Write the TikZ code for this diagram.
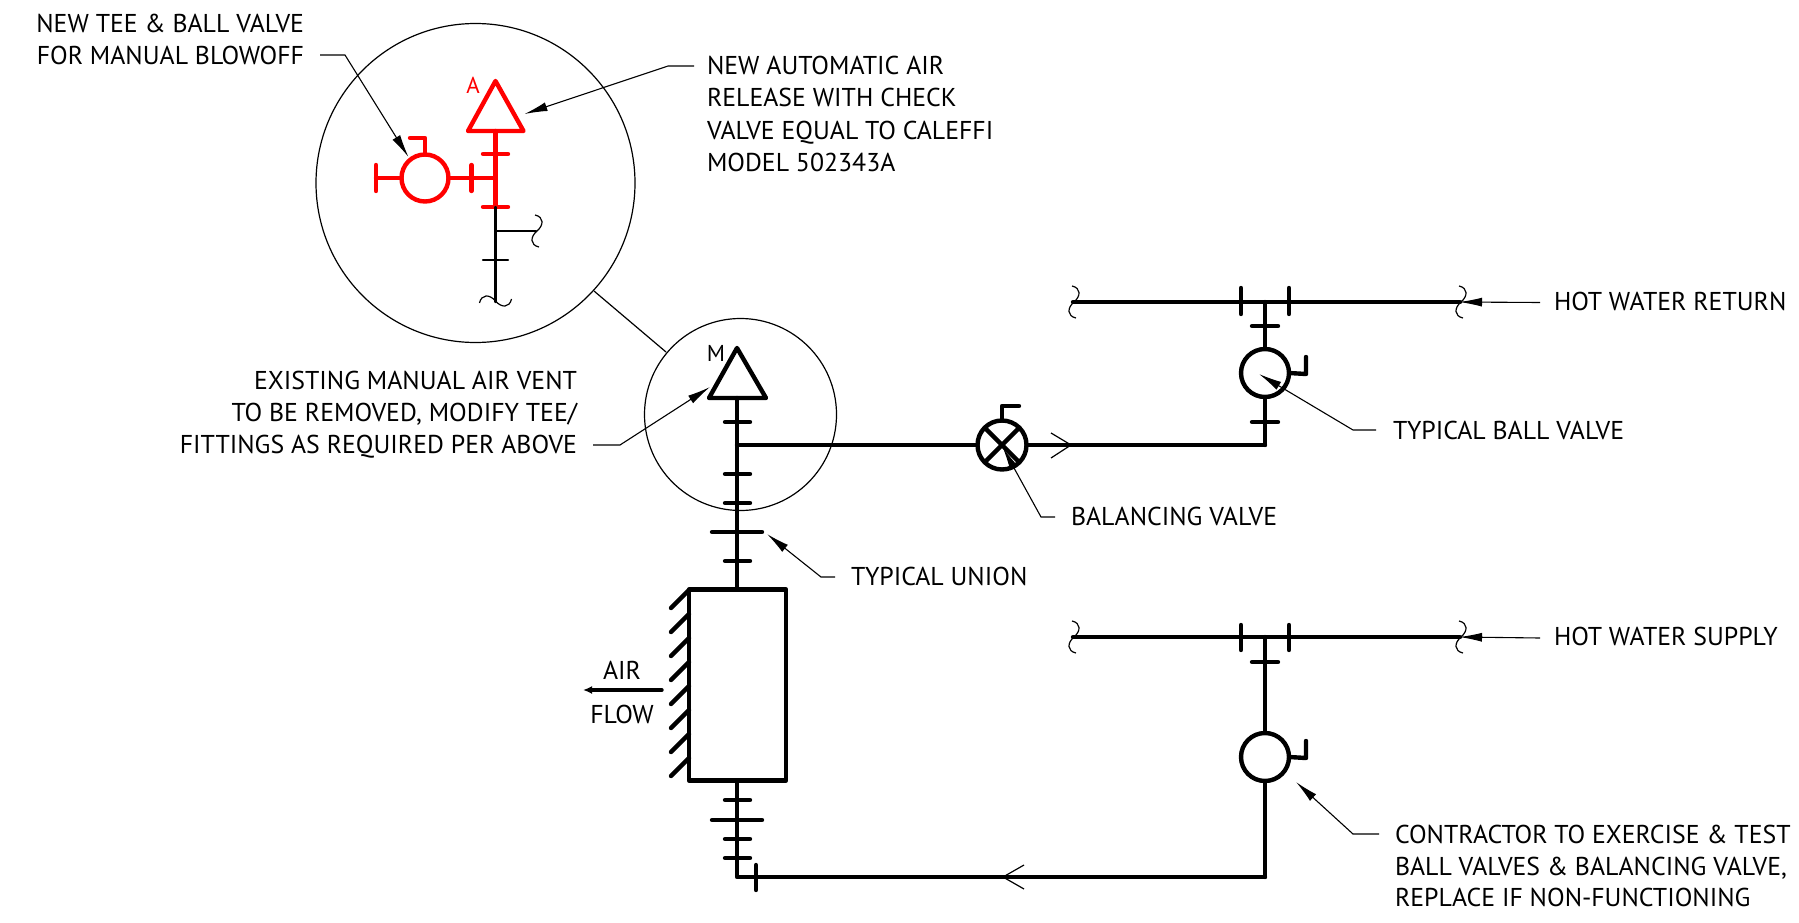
\documentclass[tikz,border=0pt]{standalone}
\usepackage{fontspec}
\setmainfont{PT Sans}
\usetikzlibrary{arrows.meta}
\definecolor{newred}{RGB}{255,0,0}
\tikzset{
  pipe/.style={line width=4.4pt,line cap=round,line join=round},
  thinpipe/.style={line width=2.4pt,line cap=round,line join=round},
  redpipe/.style={pipe,draw=newred},
  thinline/.style={line width=1.2pt},
  leader/.style={line width=1.1pt,-{Latex[length=23pt,width=9pt]}},
  valve/.style={circle,draw,line width=4.4pt,minimum size=46pt,inner sep=0pt,outer sep=0pt},
  note/.style={font=\fontsize{25.8}{25.8}\selectfont,inner sep=0pt,outer sep=0pt},
  noteR/.style={note,anchor=base east,yshift=0.6pt},
  noteL/.style={note,anchor=base west,yshift=0.6pt},
  noteC/.style={note,anchor=base,yshift=0.6pt},
  wavebreak/.pic={\draw[line width=1.2pt] (-1,-16) .. controls (8,-14) and (8,-6) .. (1,0) .. controls (-6,6) and (-6,14) .. (3,16);},
}
\begin{document}
\begin{tikzpicture}[x=1pt,y=-1pt]
\useasboundingbox (0,0) rectangle (1799,923);
% detail circles
\node[circle,draw,thinline,minimum size=319pt,inner sep=0pt] (bigc) at (475.5,183) {};
\node[circle,draw,thinline,minimum size=192pt,inner sep=0pt] (smallc) at (740.5,414.5) {};
\coordinate (lkA) at (594,291); \coordinate (lkB) at (666,352);
\draw[thinline] (lkA) -- (lkB);

% ---- red detail
\coordinate (aTop) at (495.5,81); \coordinate (aL) at (468,131); \coordinate (aR) at (523.5,131);
\draw[redpipe] (aTop) -- (aR) -- (aL) -- cycle;
\node[note,text=newred,font=\fontsize{23}{23}\selectfont] (aLabel) at (473,85) {A};
\coordinate (aBase) at (495.5,131); \coordinate (aEnd) at (495.5,207); \coordinate (aTee) at (495.5,178);
\draw[redpipe] (aBase) -- (aEnd);
\draw[redpipe] (483,154) -- (508,154);
\draw[redpipe] (483,207) -- (508,207);
\node[valve,draw=newred,minimum size=47pt] (rv) at (425,178) {};
\draw[redpipe] (rv) -- (aTee);
\draw[redpipe] (471.5,165) -- (471.5,191);
\coordinate (rvEnd) at (376,178);
\draw[redpipe] (rv) -- (rvEnd);
\draw[redpipe] (376,165) -- (376,191);
\coordinate (rvH1) at (425,138); \coordinate (rvH2) at (410,138);
\draw[redpipe] (rv.north) -- (rvH1) -- (rvH2);
% ---- black in detail
\coordinate (bEnd) at (495.5,302); \coordinate (bBr) at (495.5,231); \coordinate (bBrEnd) at (536,231);
\draw[thinpipe] (aEnd) -- (bEnd);
\draw[thinpipe] (bBr) -- (bBrEnd);
\draw[thinpipe] (483,260) -- (508,260);
\pic at (536,231) {wavebreak};
\pic[rotate=-90] at (495.5,300) {wavebreak};
% ---- main riser
\coordinate (mTop) at (737,348); \coordinate (mL) at (709,398); \coordinate (mR) at (766,398);
\draw[pipe] (mTop) -- (mR) -- (mL) -- cycle;
\node[note,font=\fontsize{23}{23}\selectfont] (mLabel) at (716,353) {M};
\node[draw,line width=4.4pt,line join=round,minimum width=97pt,minimum height=191pt,inner sep=0pt,outer sep=0pt] (coil) at (737.5,685) {};
\coordinate (mBase) at (737,398);
\draw[pipe] (mBase) -- (coil.north -| mBase);
\foreach \y in {422,474,503,561} \draw[pipe] (725,\y) -- (750,\y);
\draw[pipe] (712,532) -- (762,532);
\foreach \y in {590,614,638,662,686,710,734,758} \draw[pipe] (689,\y) -- (671,\y+18);
% supply to valve
\coordinate (tee1) at (737,445); \coordinate (c1) at (1265,445);
\node[valve,minimum size=49pt] (bv) at (1002,445) {};
\draw[pipe] (tee1) -- (bv);
\draw[pipe] (bv) -- (c1);
\draw[pipe] (bv.north west) -- (bv.south east);
\draw[pipe] (bv.north east) -- (bv.south west);
\coordinate (bvH1) at (1002,406); \coordinate (bvH2) at (1019,406);
\draw[pipe] (bv.north) -- (bvH1) -- (bvH2);
\draw[thinline] (1051,433) -- (1071,445) -- (1051,458);
% return branch
\coordinate (hwrL) at (1073,302); \coordinate (hwrR) at (1460,302); \coordinate (hwrT) at (1265,302);
\draw[pipe] (hwrL) -- (hwrR);
\pic at (1073,302) {wavebreak};
\pic at (1460,302) {wavebreak};
\draw[pipe] (1241,288) -- (1241,314);
\draw[pipe] (1289,288) -- (1289,314);
\node[valve,minimum size=48pt] (v1) at (1265,373) {};
\draw[pipe] (hwrT) -- (v1);
\draw[pipe] (v1) -- (c1);
\draw[pipe] (1252,326) -- (1278,326);
\draw[pipe] (1252,422) -- (1278,422);
\coordinate (v1H1) at (1306,374); \coordinate (v1H2) at (1306,357);
\draw[pipe] (v1.east) -- (v1H1) -- (v1H2);
% coil outlet
\coordinate (cOut) at (737,781); \coordinate (c2) at (737,877); \coordinate (c3) at (1265,877);
\draw[pipe] (cOut) -- (c2) -- (c3);
\foreach \y in {800,839,858} \draw[pipe] (725,\y) -- (750,\y);
\draw[pipe] (712,820) -- (762,820);
\draw[pipe] (756,865) -- (756,890);
\draw[thinline] (1024,865) -- (1003,877) -- (1024,889);
% supply branch
\coordinate (hwsL) at (1073,637); \coordinate (hwsR) at (1460,637); \coordinate (hwsT) at (1265,637);
\draw[pipe] (hwsL) -- (hwsR);
\pic at (1073,637) {wavebreak};
\pic at (1460,637) {wavebreak};
\draw[pipe] (1241,625) -- (1241,650);
\draw[pipe] (1289,625) -- (1289,650);
\node[valve,minimum size=48pt] (v2) at (1265,757) {};
\draw[pipe] (hwsT) -- (v2);
\draw[pipe] (v2) -- (c3);
\draw[pipe] (1252,662) -- (1278,662);
\coordinate (v2H1) at (1306,758); \coordinate (v2H2) at (1306,741);
\draw[pipe] (v2.east) -- (v2H1) -- (v2H2);
% air flow
\coordinate (afR) at (662,690); \coordinate (afL) at (583,690);
\draw[line width=3.4pt,line cap=round,-{Latex[length=9pt,width=8pt]}] (afR) -- (afL);
\node[noteC] (air) at (622,680) {AIR};
\node[noteC] (flow) at (622,724) {FLOW};
% labels
\node[noteR] (t1) at (304,33) {NEW TEE \& BALL VALVE};
\node[noteR] (t2) at (304,65) {FOR MANUAL BLOWOFF};
\node[noteL] (t3) at (707,75.5) {NEW AUTOMATIC AIR};
\node[noteL] (t4) at (707,107.5) {RELEASE WITH CHECK};
\node[noteL] (t5) at (707,140) {VALVE EQUAL TO CALEFFI};
\node[noteL] (t6) at (707,172) {MODEL 502343A};
\node[noteR] (t7) at (577,390) {EXISTING MANUAL AIR VENT};
\node[noteR] (t8) at (577,422) {TO BE REMOVED, MODIFY TEE/};
\node[noteR] (t9) at (577,454) {FITTINGS AS REQUIRED PER ABOVE};
\node[noteL] (t10) at (851,586) {TYPICAL UNION};
\node[noteL] (t11) at (1071,526) {BALANCING VALVE};
\node[noteL] (t12) at (1393,440) {TYPICAL BALL VALVE};
\node[noteL] (t13) at (1554,311) {HOT WATER RETURN};
\node[noteL] (t14) at (1554,646) {HOT WATER SUPPLY};
\node[noteL] (t15) at (1395,844) {CONTRACTOR TO EXERCISE \& TEST};
\node[noteL] (t16) at (1395,876) {BALL VALVES \& BALANCING VALVE,};
\node[noteL] (t17) at (1395,907) {REPLACE IF NON-FUNCTIONING};
% leaders
\coordinate (l1a) at (320,55); \coordinate (l1b) at (345,55); \coordinate (l1c) at (408.5,157);
\draw[leader] (l1a) -- (l1b) -- (l1c);
\coordinate (l2a) at (694,66); \coordinate (l2b) at (668,66); \coordinate (l2c) at (524.5,114);
\draw[leader] (l2a) -- (l2b) -- (l2c);
\coordinate (l3a) at (593,445); \coordinate (l3b) at (620,445); \coordinate (l3c) at (710,387);
\draw[leader] (l3a) -- (l3b) -- (l3c);
\coordinate (l4a) at (835,577); \coordinate (l4b) at (821,577); \coordinate (l4c) at (767,534);
\draw[leader] (l4a) -- (l4b) -- (l4c);
\coordinate (l5a) at (1055,517); \coordinate (l5b) at (1041,517); \coordinate (l5c) at (1003,448);
\draw[leader] (l5a) -- (l5b) -- (l5c);
\coordinate (l6a) at (1376,430); \coordinate (l6b) at (1353,430); \coordinate (l6c) at (1259,374);
\draw[leader] (l6a) -- (l6b) -- (l6c);
\coordinate (l7a) at (1540,302.5); \coordinate (l7c) at (1459,302);
\draw[leader] (l7a) -- (l7c);
\coordinate (l8a) at (1540,638); \coordinate (l8c) at (1459,637);
\draw[leader] (l8a) -- (l8c);
\coordinate (l9a) at (1379,834); \coordinate (l9b) at (1353,834); \coordinate (l9c) at (1296,782);
\draw[leader] (l9a) -- (l9b) -- (l9c);
\end{tikzpicture}
\end{document}
